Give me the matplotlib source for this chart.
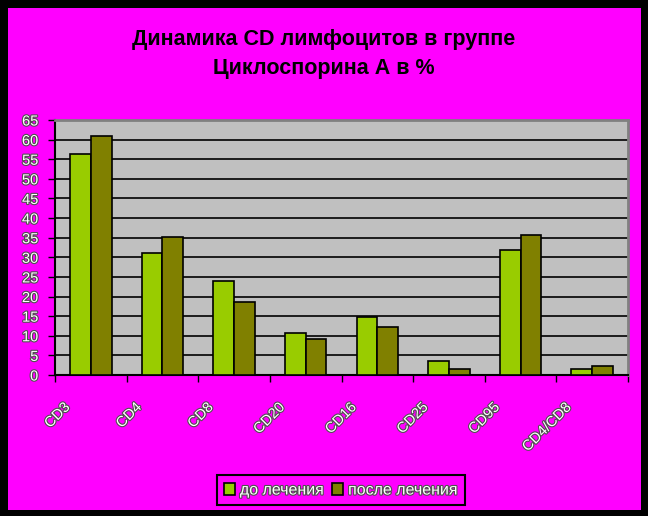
import matplotlib.pyplot as plt
import matplotlib.patches as patches
import matplotlib.patheffects as pe
import matplotlib.transforms as mtransforms
import numpy as np

# Данные
kategorii = ['CD3', 'CD4', 'CD8', 'CD20', 'CD16', 'CD25', 'CD95', 'CD4/CD8']
do_lecheniya = [56.3, 31.2, 24.0, 10.7, 14.7, 3.5, 31.9, 1.5]
posle_lecheniya = [60.9, 35.3, 18.7, 9.2, 12.2, 1.5, 35.6, 2.2]
y_ticks = list(range(0, 70, 5))

plt.rcParams['font.family'] = ['Liberation Sans', 'DejaVu Sans']

fig = plt.figure(figsize=(6.48, 5.16), dpi=100, facecolor='black')
fon = patches.Rectangle((8 / 648, 6 / 516), 633 / 648, 502 / 516,
                        transform=fig.transFigure, facecolor='#FF00FF',
                        edgecolor='none', zorder=-10)
fig.add_artist(fon)

ax = fig.add_axes([55 / 648, 1 - 375 / 516, 573 / 648, 255 / 516], zorder=1)
ax.set_facecolor('#C0C0C0')

obvodka = [pe.withStroke(linewidth=1.6, foreground='#505050')]

x = np.arange(len(kategorii))
w = 0.29
ax.bar(x - w / 2, do_lecheniya, w, color='#99CC00', edgecolor='black',
       linewidth=1.2, label='до лечения', zorder=3)
ax.bar(x + w / 2, posle_lecheniya, w, color='#808000', edgecolor='black',
       linewidth=1.2, label='после лечения', zorder=3)

ax.set_xlim(-0.5, len(kategorii) - 0.5)
ax.set_ylim(0, 65)
ax.set_yticks(y_ticks)
ax.yaxis.grid(True, color='black', linewidth=1.2, zorder=1)
ax.set_axisbelow(True)

ax.set_xticks(np.arange(len(kategorii) + 1) - 0.5)
ax.set_xticklabels([])
ax.tick_params(axis='x', length=5, width=1, color='black')
ax.tick_params(axis='y', length=5, width=1, color='black', labelsize=10.5,
               labelcolor='white', pad=7)
for lab in ax.get_yticklabels():
    lab.set_path_effects(obvodka)

smesh = mtransforms.offset_copy(ax.transData, fig=fig, x=-28, y=-25, units='dots')
for i, k in enumerate(kategorii):
    ax.text(i, 0, k, transform=smesh, rotation=45, ha='right', va='top',
            rotation_mode='anchor', fontsize=10.5, color='white',
            path_effects=obvodka)

ax.spines['left'].set_color('black')
ax.spines['bottom'].set_color('black')
ax.spines['left'].set_linewidth(1.5)
ax.spines['bottom'].set_linewidth(1.5)
ax.spines['top'].set_color('#808080')
ax.spines['right'].set_color('#808080')
ax.spines['top'].set_linewidth(2)
ax.spines['right'].set_linewidth(2)

fig.text(0.5, 1 - 54 / 516, 'Динамика CD лимфоцитов в группе\nЦиклоспорина А в %',
         ha='center', va='center', fontsize=15.5, fontweight='bold',
         color='black', linespacing=1.55)

leg = fig.legend(loc='center', bbox_to_anchor=(341 / 648, 1 - 490 / 516), ncol=2,
                 frameon=True, fancybox=False, edgecolor='black',
                 facecolor='#FF00FF', framealpha=1, fontsize=11.5,
                 handlelength=0.7, handleheight=0.7, handletextpad=0.3,
                 columnspacing=0.5, borderpad=0.45)
leg.get_frame().set_linewidth(1.5)
for t in leg.get_texts():
    t.set_color('white')
    t.set_path_effects(obvodka)

fig.savefig('out.png', dpi=100, facecolor='black')
